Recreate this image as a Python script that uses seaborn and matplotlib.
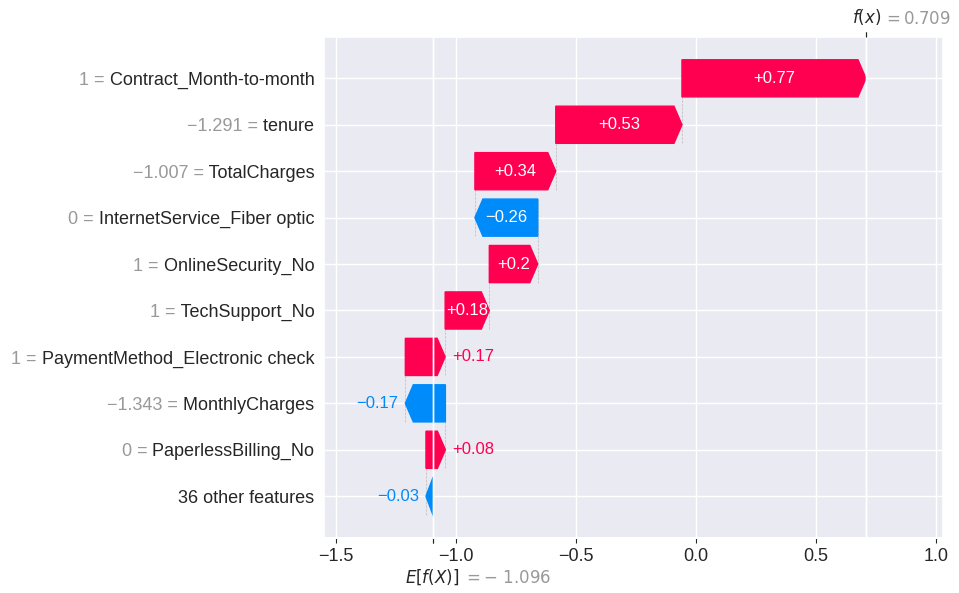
import re
import numpy as np
import pandas as pd
import matplotlib
matplotlib.use("Agg")
import matplotlib.pyplot as plt
import matplotlib.transforms as mtransforms
import seaborn as sns

# ---------------- data ----------------
features = [
    "Contract_Month-to-month",
    "tenure",
    "TotalCharges",
    "InternetService_Fiber optic",
    "OnlineSecurity_No",
    "TechSupport_No",
    "PaymentMethod_Electronic check",
    "MonthlyCharges",
    "PaperlessBilling_No",
]
feature_values = [1, -1.291, -1.007, 0, 1, 1, 1, -1.343, 0]
shap_values = [0.767, 0.526, 0.337, -0.262, 0.202, 0.184, 0.166, -0.167, 0.081]
other_label = "36 other features"
other_value = -0.029
base_value = -1.096

# ---------------- style ----------------
sns.set_theme(style="darkgrid")
plt.rcParams["font.family"] = ["Liberation Sans", "DejaVu Sans"]
plt.rcParams["mathtext.fontset"] = "dejavusans"

RED = "#ff0051"
BLUE = "#008bfb"
GRAY = "#999999"


def fmt(v, f):
    s = f % v
    s = re.sub(r"\.?0+$", "", s)
    if s[0] == "-":
        s = "\u2212" + s[1:]
    return s


df = pd.DataFrame({
    "name": [" " + f for f in features] + [other_label],
    "prefix": [fmt(v, "%0.03f") + " =" for v in feature_values] + [""],
    "value": shap_values + [other_value],
})
N = len(df)
fx = base_value + df["value"].sum()
rows = list(range(N - 1, -1, -1))

fig, ax = plt.subplots(figsize=(9.59, 5.93), dpi=100)
fig.subplots_adjust(left=324 / 959, right=943 / 959, bottom=55 / 593, top=556 / 593)
ax.set_xlim(-1.55, 1.03)
ax.set_ylim(-0.9, N - 1 + 0.89)

renderer = fig.canvas.get_renderer()
xlen = ax.get_xlim()[1] - ax.get_xlim()[0]
bbox = ax.get_window_extent().transformed(fig.dpi_scale_trans.inverted())
bbox_to_xscale = xlen / bbox.width
hl_scaled = bbox_to_xscale * 0.08
bar_width = 0.8

# row guide lines
for r in rows:
    ax.axhline(r, color="#cccccc", lw=0.5, dashes=(1, 5), zorder=-1)

loc = fx
for i, sval in enumerate(df["value"]):
    y = rows[i]
    loc -= sval
    start = loc
    dist = abs(sval)
    color = RED if sval >= 0 else BLUE
    sign = 1 if sval >= 0 else -1
    ax.plot([start, start], [y - 1 - 0.4, y + 0.4], color="#bbbbbb",
            linestyle="--", linewidth=0.5, zorder=-1)
    arrow = ax.arrow(start, y, sign * max(dist - hl_scaled, 1e-6), 0,
                     head_length=min(dist, hl_scaled), color=color,
                     width=bar_width, head_width=bar_width)
    txt_str = fmt(sval, "%+0.02f")
    txt = ax.text(start + 0.5 * sval, y, txt_str, ha="center", va="center",
                  color="white", fontsize=12)
    tb = txt.get_window_extent(renderer=renderer)
    ab = arrow.get_window_extent(renderer=renderer)
    if tb.width + 1 > ab.width:
        txt.remove()
        if sval >= 0:
            ax.text(start + sval + (5 / 72) * bbox_to_xscale, y, txt_str,
                    ha="left", va="center", color=RED, fontsize=12)
        else:
            ax.text(start + sval - (5 / 72) * bbox_to_xscale, y, txt_str,
                    ha="right", va="center", color=BLUE, fontsize=12)

ax.set_yticks(rows)
ax.set_yticklabels(list(df["name"]), fontsize=13)
ax.tick_params(axis="y", length=0, pad=7)

ax.set_xticks([-1.5, -1.0, -0.5, 0.0, 0.5, 1.0])
ax.tick_params(axis="x", labelsize=13, length=3.5, width=0.8, pad=3.5)

# gray "value =" prefixes placed just left of each feature-name tick label
for t, pre in zip(ax.get_yticklabels(), df["prefix"]):
    if pre:
        ax.annotate(pre, xy=(0, 0.5), xycoords=t, ha="right", va="center",
                    fontsize=13, color=GRAY, annotation_clip=False)

# E[f(X)] axis (bottom, one line below the main tick labels)
ax2 = ax.twiny()
ax2.set_xlim(ax.get_xlim())
ax2.set_xticks([base_value, base_value + 1e-8])
base_str = fmt(base_value, "%0.03f").replace("\u2212", "\u2212\\ ")
ax2.set_xticklabels(["$E[f(X)]$", "$ = " + base_str + "$"],
                    fontsize=12, ha="left")
for s in ["right", "top", "left"]:
    ax2.spines[s].set_visible(False)

# f(x) axis (top)
ax3 = ax2.twiny()
ax3.set_xlim(ax.get_xlim())
ax3.set_xticks([fx, fx + 1e-8])
ax3.set_xticklabels(["$f(x)$", "$ = " + fmt(fx, "%0.03f") + "$"], fontsize=12, ha="left")
for s in ["right", "top", "left"]:
    ax3.spines[s].set_visible(False)

ax2.tick_params(axis="x", length=3.5, width=0.8, pad=17.5)
ax3.tick_params(axis="x", length=3.5, width=0.8, pad=3.5)

tl = ax3.xaxis.get_majorticklabels()
tl[0].set_transform(tl[0].get_transform() + mtransforms.ScaledTranslation(-10 / 72., 0, fig.dpi_scale_trans))
tl[1].set_transform(tl[1].get_transform() + mtransforms.ScaledTranslation(12 / 72., 0, fig.dpi_scale_trans))
tl[1].set_color(GRAY)

tl = ax2.xaxis.get_majorticklabels()
tl[0].set_transform(tl[0].get_transform() + mtransforms.ScaledTranslation(-20 / 72., 0, fig.dpi_scale_trans))
tl[1].set_transform(tl[1].get_transform() + mtransforms.ScaledTranslation(22 / 72., -1 / 72., fig.dpi_scale_trans))
tl[1].set_color(GRAY)

fig.savefig("out.png", dpi=100)
